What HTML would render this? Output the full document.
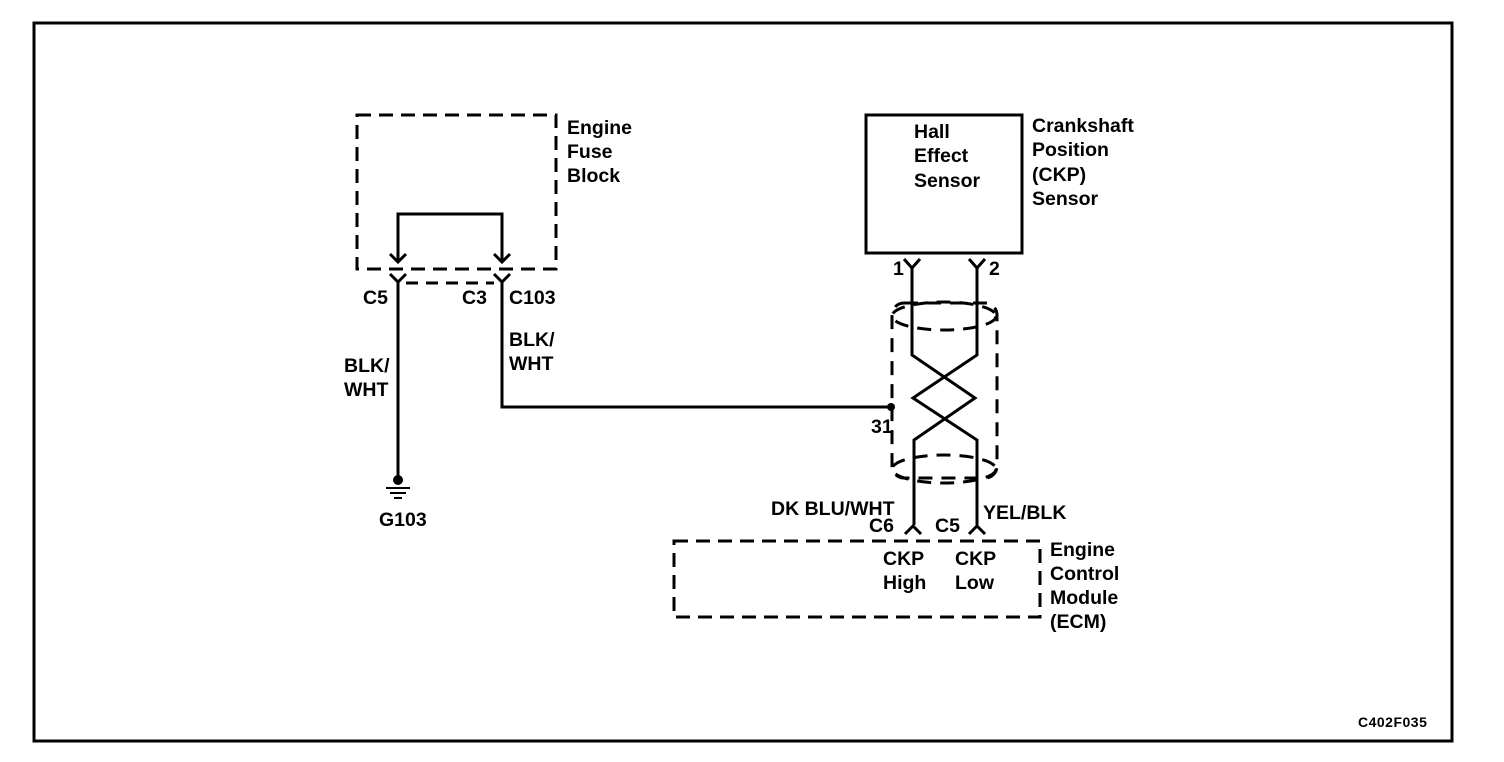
<!DOCTYPE html>
<html><head><style>
html,body{margin:0;padding:0;background:#fff;}
svg{display:block;}
text{font-family:"Liberation Sans",Arial,sans-serif;font-size:19.5px;font-weight:bold;fill:#000;}
</style></head><body>
<svg width="1504" height="762" viewBox="0 0 1504 762" xmlns="http://www.w3.org/2000/svg">
<rect x="34" y="23" width="1418" height="718" fill="none" stroke="#000" stroke-width="3"/>
<g fill="none" stroke="#000" stroke-width="3">
<rect x="357" y="115" width="199" height="154" stroke-dasharray="14,8"/>
<polyline points="398,262 398,214 502,214 502,262"/>
<polyline points="390,254 398,262 406,254"/>
<polyline points="494,254 502,262 510,254"/>
<polyline points="390,274 398,282 406,274"/>
<polyline points="494,274 502,282 510,274"/>
<line x1="406" y1="283" x2="494" y2="283" stroke-dasharray="12,8"/>
<line x1="398" y1="282" x2="398" y2="478"/>
<polyline points="502,282 502,407 891,407"/>
<line x1="386" y1="488" x2="410" y2="488" stroke-width="2"/>
<line x1="390" y1="493" x2="406" y2="493" stroke-width="2"/>
<line x1="394" y1="498" x2="402" y2="498" stroke-width="2"/>
<rect x="866" y="115" width="156" height="138"/>
<polyline points="904,259 912,268 920,259"/>
<polyline points="969,259 977,268 985,259"/>
<polyline points="912,268 912,355 975,398 914,440 914,525"/>
<polyline points="977,268 977,355 913,398 977,440 977,525"/>
<rect x="892" y="303" width="105" height="175" rx="12" stroke-dasharray="14,9"/>
<ellipse cx="944" cy="316" rx="52" ry="14" stroke-dasharray="14,9"/>
<ellipse cx="944" cy="469" rx="52" ry="14" stroke-dasharray="14,9"/>
<polyline points="905,534 913,526 921,534"/>
<polyline points="969,534 977,526 985,534"/>
<rect x="674" y="541" width="366" height="76" stroke-dasharray="14,8"/>
</g>
<circle cx="398" cy="480" r="5"/>
<circle cx="891" cy="407" r="4"/>
<text x="567" y="134">Engine</text>
<text x="567" y="158">Fuse</text>
<text x="567" y="182">Block</text>
<text x="363" y="304">C5</text>
<text x="462" y="304">C3</text>
<text x="509" y="304">C103</text>
<text x="509" y="346">BLK/</text>
<text x="509" y="370">WHT</text>
<text x="344" y="372">BLK/</text>
<text x="344" y="396">WHT</text>
<text x="379" y="526">G103</text>
<text x="914" y="138">Hall</text>
<text x="914" y="162">Effect</text>
<text x="914" y="187">Sensor</text>
<text x="1032" y="132">Crankshaft</text>
<text x="1032" y="156">Position</text>
<text x="1032" y="181">(CKP)</text>
<text x="1032" y="205">Sensor</text>
<text x="893" y="275">1</text>
<text x="989" y="275">2</text>
<text x="871" y="433">31</text>
<text x="771" y="515">DK BLU/WHT</text>
<text x="983" y="519">YEL/BLK</text>
<text x="869" y="532">C6</text>
<text x="935" y="532">C5</text>
<text x="883" y="565">CKP</text>
<text x="883" y="589">High</text>
<text x="955" y="565">CKP</text>
<text x="955" y="589">Low</text>
<text x="1050" y="556">Engine</text>
<text x="1050" y="580">Control</text>
<text x="1050" y="604">Module</text>
<text x="1050" y="628">(ECM)</text>
<text x="1358" y="727" style="font-size:14px;letter-spacing:0.5px">C402F035</text>
</svg>
</body></html>
